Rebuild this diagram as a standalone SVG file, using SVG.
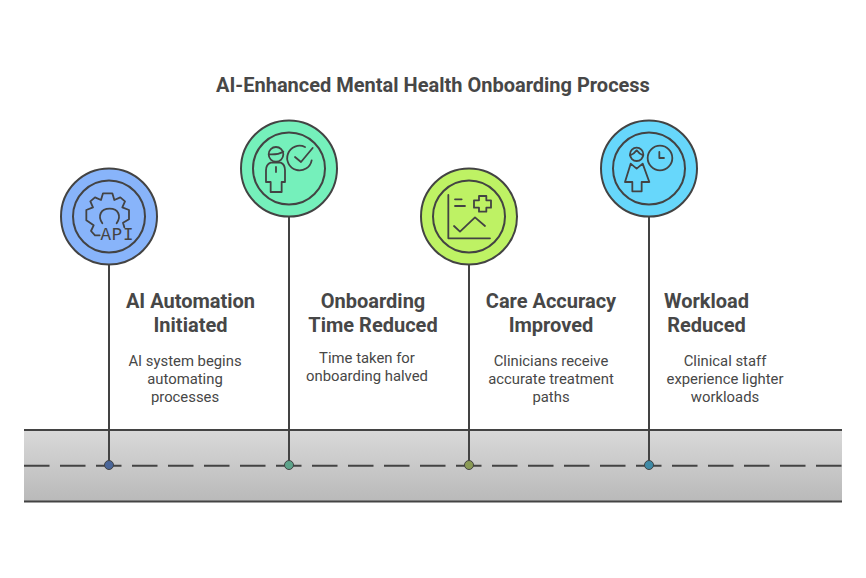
<svg xmlns="http://www.w3.org/2000/svg" width="866" height="578" viewBox="0 0 866 578">
<style>
text{font-family:Roboto,"Liberation Sans",sans-serif;fill:#474747;text-anchor:middle}
.t{font-size:20px;font-weight:700}
.h{font-size:20px;font-weight:700}
.b{font-size:14.85px;font-weight:400}
.c{stroke:#434343;stroke-width:2;fill:none}
.o{stroke:#434343;stroke-width:2}
.i{stroke:#434343;stroke-width:5.400;fill:none;stroke-linecap:round;stroke-linejoin:round}
.l{stroke:#434343;stroke-width:2;fill:none}
.a{font-family:"Liberation Mono",monospace;font-size:17.500px;fill:#434343;letter-spacing:.8px;text-anchor:start}
</style>
<defs><linearGradient id="g" x1="0" y1="0" x2="0" y2="1"><stop offset="0" stop-color="#d9d9d9"/><stop offset="1" stop-color="#b9b9b9"/></linearGradient></defs>
<rect width="866" height="578" fill="#fff"/>
<text class="t" x="433" y="92">AI-Enhanced Mental Health Onboarding Process</text>
<g id="band">
<rect x="24" y="430" width="818" height="71.500" fill="url(#g)"/>
<path class="l" d="M24 430H842M24 501.500H842"/>
<path class="l" stroke-dasharray="25.500 10.500" d="M24 465.700H842"/>
</g>
<g id="connectors">
<path class="l" d="M109 264V465M289 216V465M469 264V465M649 216V465"/>
</g>
<g id="node1">
<circle class="o" cx="109" cy="216.500" r="48" fill="#88b4fa"/><circle class="c" cx="109" cy="216.500" r="36"/>
<g transform="translate(79 186) scale(.3333)">
<path class="i" d="M62 148L48 148L36 135L44 118L22 103L22 72L42 64L34 46L48 34L66 42L72 22L100 22L106 42L124 34L138 46L130 64L150 72L150 100L132 110L136 124"/>
<path class="i" d="M70 112C55 90 65 68 92 68C118 68 128 90 113 112"/>
</g>
<text class="a" x="100.500" y="240">API</text>
<circle cx="109" cy="465" r="4.500" fill="#4a6699" stroke="#434343" stroke-width="1"/>
<text class="h" x="190.500" y="308">AI Automation</text><text class="h" x="190.500" y="332">Initiated</text>
<text class="b" x="185" y="366">AI system begins</text><text class="b" x="185" y="384">automating</text><text class="b" x="185" y="402">processes</text>
</g>
<g id="node2">
<circle class="o" cx="289" cy="168.500" r="48" fill="#75f0bb"/><circle class="c" cx="289" cy="168.500" r="36"/>
<g transform="translate(230 112) scale(.3333)">
<circle class="i" cx="138" cy="127" r="22"/><path class="i" d="M117 127C130 128 148 126 160 119M138 165V180"/>
<path class="i" d="M122 152H152C162 156 165 165 165 175V210H155V240H122V210H108V175C108 165 112 156 122 152Z"/>
<path class="i" d="M225 105A37 37 0 1 0 245 145M195 135L213 150L248 108"/>
</g>
<circle cx="289" cy="465" r="4.500" fill="#5da38a" stroke="#434343" stroke-width="1"/>
<text class="h" x="373" y="308">Onboarding</text><text class="h" x="373" y="332">Time Reduced</text>
<text class="b" x="367" y="363">Time taken for</text><text class="b" x="367" y="381">onboarding halved</text>
</g>
<g id="node3">
<circle class="o" cx="469" cy="216.500" r="48" fill="#bef264"/><circle class="c" cx="469" cy="216.500" r="36"/>
<g transform="translate(410 160) scale(.3333)">
<path class="i" d="M115 105V235H240M135 118H155M135 138H165"/>
<path class="i" d="M207 108H229V121H243V143H229V155H207V143H192V121H207Z"/>
<path class="i" d="M132 198L150 215L195 172L225 198"/>
</g>
<circle cx="469" cy="465" r="4.500" fill="#8a9a55" stroke="#434343" stroke-width="1"/>
<text class="h" x="551" y="308">Care Accuracy</text><text class="h" x="551" y="332">Improved</text>
<text class="b" x="551" y="366">Clinicians receive</text><text class="b" x="551" y="384">accurate treatment</text><text class="b" x="551" y="402">paths</text>
</g>
<g id="node4">
<circle class="o" cx="649" cy="168.500" r="48" fill="#67d7fb"/><circle class="c" cx="649" cy="168.500" r="36"/>
<g transform="translate(590 112) scale(.3333)">
<circle class="i" cx="140" cy="127" r="20"/><path class="i" d="M120 130C130 127 136 121 140 115C144 121 150 127 160 130"/>
<path class="i" d="M122 155L140 170L158 155L178 210H155V238H127V210H105Z"/>
<circle class="i" cx="210" cy="138" r="37"/><path class="i" d="M208 120V138H222"/>
</g>
<circle cx="649" cy="465" r="4.500" fill="#3f8aa6" stroke="#434343" stroke-width="1"/>
<text class="h" x="706.500" y="308">Workload</text><text class="h" x="706.500" y="332">Reduced</text>
<text class="b" x="725" y="366">Clinical staff</text><text class="b" x="725" y="384">experience lighter</text><text class="b" x="725" y="402">workloads</text>
</g>
</svg>
